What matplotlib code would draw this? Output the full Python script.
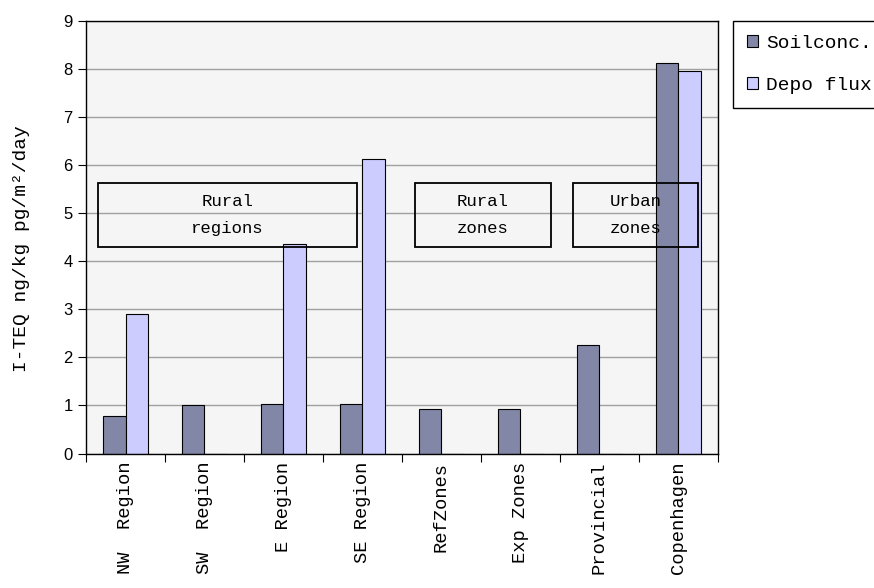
import numpy as np
import matplotlib.pyplot as plt
from matplotlib.patches import Rectangle

sitios = ['NW  Region', 'SW  Region', 'E Region', 'SE Region',
          'RefZones', 'Exp Zones', 'Provincial', 'Copenhagen']
suelo = [0.79, 1.0, 1.04, 1.04, 0.92, 0.92, 2.25, 8.12]
depo = [2.91, 0, 4.37, 6.12, 0, 0, 0, 7.96]
cajas = [('Rural\nregions', 0.15, 3.43), ('Rural\nzones', 4.17, 5.88),
         ('Urban\nzones', 6.17, 7.75)]
caja_y = (4.29, 5.63)

mono = 'Liberation Mono'
plt.rcParams['font.family'] = 'Liberation Sans'

fig = plt.figure(figsize=(8.74, 5.88), dpi=100)
ax = fig.add_axes([0.0984, 0.2287, 0.7231, 0.7356])
ax.set_facecolor('#f5f5f5')

x = np.arange(len(sitios)) + 0.5
w = 0.282
b1 = ax.bar(x - w/2, suelo, w, color='#8287a8', edgecolor='black', lw=0.8,
            label='Soilconc.', zorder=2)
b2 = ax.bar(x + w/2, depo, w, color='#ccccff', edgecolor='black', lw=0.8,
            label='Depo flux', zorder=2)

for txt, x0, x1 in cajas:
    ax.add_patch(Rectangle((x0, caja_y[0]), x1 - x0, caja_y[1] - caja_y[0],
                           fill=False, ec='black', lw=1.3, zorder=3))
    ax.text((x0 + x1)/2, sum(caja_y)/2, txt, ha='center', va='center',
            family=mono, fontsize=12.5, linespacing=1.95, zorder=4)

ax.set_xlim(0, 8)
ax.set_ylim(0, 9)
ax.set_yticks(range(10))
ax.tick_params(axis='y', labelsize=12, length=6, direction='out')
ax.yaxis.grid(True, color='#a0a0a0', lw=1, zorder=0)
ax.set_xticks(range(9))
ax.set_xticklabels([])
ax.set_xticks(x, minor=True)
ax.set_xticklabels(sitios, minor=True, rotation=90, family=mono,
                   fontsize=13.5, va='top')
ax.tick_params(axis='x', which='major', length=6, direction='out')
ax.tick_params(axis='x', which='minor', length=0, pad=6)
for s in ax.spines.values():
    s.set_linewidth(1)

ax.set_ylabel('I-TEQ ng/kg pg/m\u00b2/day', family=mono, fontsize=14)
ax.yaxis.set_label_coords(-0.088, 0.473)

fig.legend(handles=[b1, b2], loc='upper left',
           bbox_to_anchor=(733/874, 1 - 21/588), prop={'family': mono, 'size': 14},
           fancybox=False, edgecolor='black', framealpha=1,
           handlelength=0.6, handleheight=0.6, handletextpad=0.4,
           borderaxespad=0, borderpad=0.7, labelspacing=1.3)

fig.savefig('out.png', dpi=100)
